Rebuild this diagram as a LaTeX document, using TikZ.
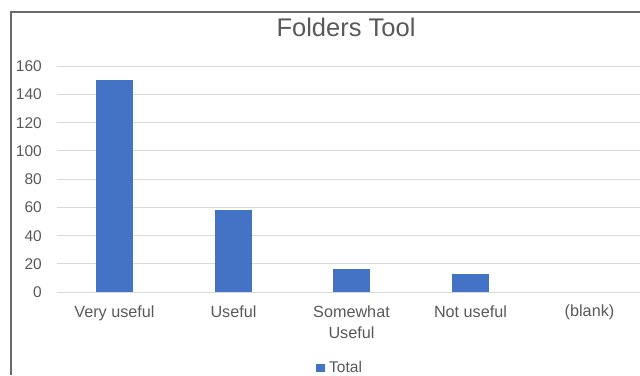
\documentclass[tikz,border=0pt]{standalone}
\usepackage{fontspec}
\setmainfont{Liberation Sans}
\definecolor{axisgray}{HTML}{595959}
\definecolor{gridgray}{HTML}{D9D9D9}
\definecolor{framegray}{HTML}{6A6A6A}
\definecolor{barblue}{HTML}{4472C4}
\tikzset{
  gridline/.style={draw=gridgray, line width=1pt},
  tick/.style={anchor=base east, inner sep=0pt, text=axisgray, font=\fontsize{15.5}{19}\selectfont},
  catlabel/.style={anchor=north, align=center, inner sep=0pt, text=axisgray, font=\fontsize{16.2}{20.5}\selectfont},
  bar/.style={fill=barblue}
}
\begin{document}
\begin{tikzpicture}[x=1pt, y=-1pt]
        \useasboundingbox (0, 0) rectangle (640, 375);
        % chart frame, top and left side
        \draw[framegray, line width=1.4pt] (11, 375) -- (11, 12) -- (640, 12);
        \node[anchor=base, inner sep=0pt, text=axisgray, font=\fontsize{25.5}{30}\selectfont] (title) at (346, 36.7) {Folders Tool};
        % gridlines from top to down
        \draw[gridline] (57, 66) -- (640, 66);
        \draw[gridline] (57, 94.25) -- (640, 94.25);
        \draw[gridline] (57, 122.5) -- (640, 122.5);
        \draw[gridline] (57, 150.75) -- (640, 150.75);
        \draw[gridline] (57, 179) -- (640, 179);
        \draw[gridline] (57, 207.25) -- (640, 207.25);
        \draw[gridline] (57, 235.5) -- (640, 235.5);
        \draw[gridline] (57, 263.75) -- (640, 263.75);
        \draw[gridline] (57, 292) -- (640, 292);
        % value labels
        \node[tick] (t160) at (42, 71.5) {160};
        \node[tick] (t140) at (42, 99.75) {140};
        \node[tick] (t120) at (42, 128) {120};
        \node[tick] (t100) at (42, 156.25) {100};
        \node[tick] (t80) at (42, 184.5) {80};
        \node[tick] (t60) at (42, 212.75) {60};
        \node[tick] (t40) at (42, 241) {40};
        \node[tick] (t20) at (42, 269.25) {20};
        \node[tick] (t0) at (42, 297.5) {0};
        % bars from left to right
        \fill[bar] (96, 292) rectangle (133, 80.1);
        \fill[bar] (215, 292) rectangle (252, 210.1);
        \fill[bar] (333, 292) rectangle (370, 269.4);
        \fill[bar] (452, 292) rectangle (489, 273.6);
        % category labels
        \node[catlabel] (veryuseful) at (114.5, 306) {Very useful};
        \node[catlabel] (useful) at (233.5, 306) {Useful};
        \node[catlabel] (somewhat) at (351.5, 306) {Somewhat\\Useful};
        \node[catlabel] (notuseful) at (470.5, 306) {Not useful};
        \node[catlabel] (blank) at (589.5, 305) {(blank)};
        % legend
        \fill[bar] (316, 363.5) rectangle (324.5, 372);
        \node[anchor=base west, inner sep=0pt, text=axisgray, font=\fontsize{15.5}{19}\selectfont] (total) at (329, 372) {Total};
\end{tikzpicture}
\end{document}
